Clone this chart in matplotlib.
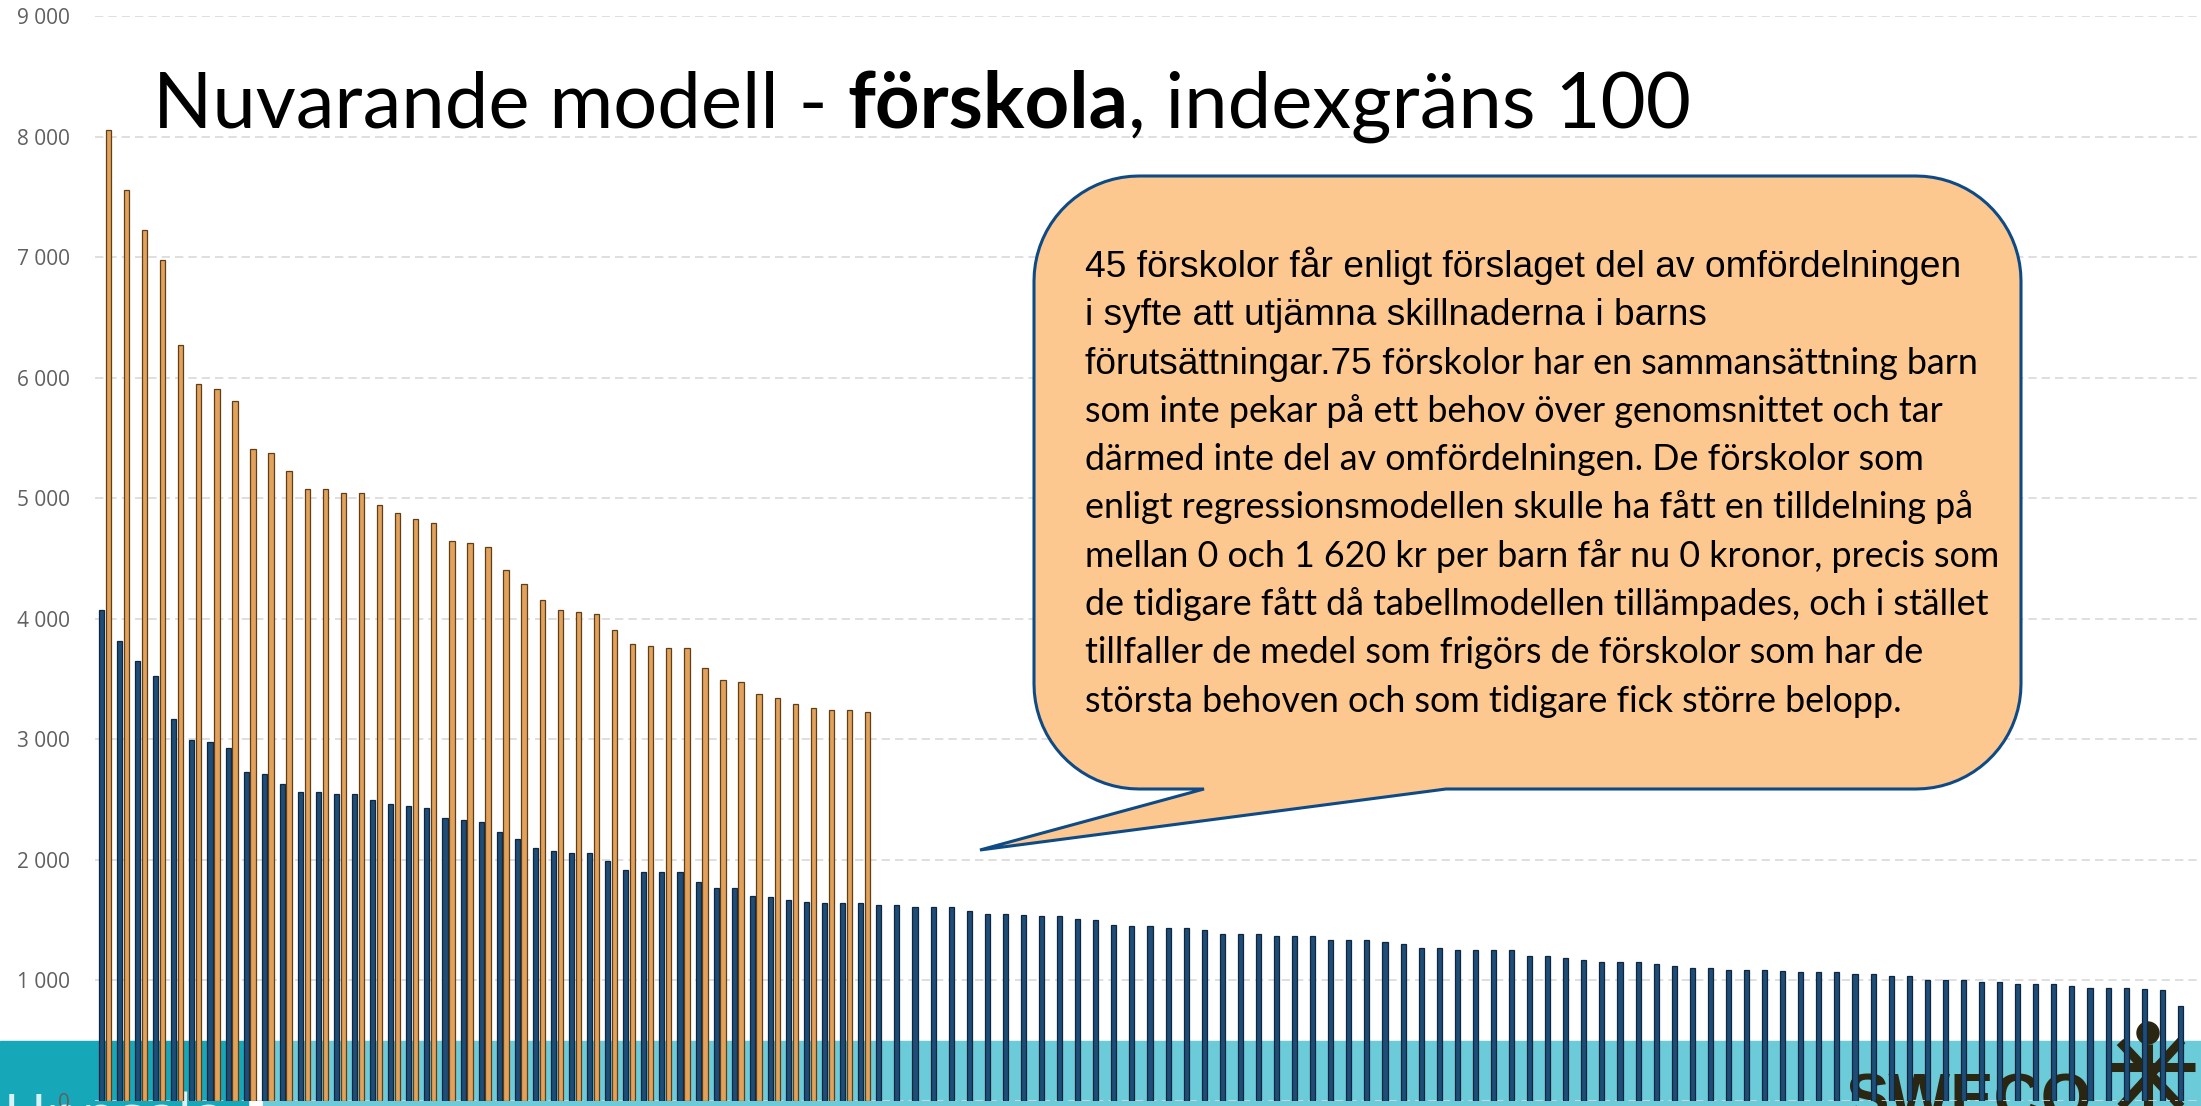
import matplotlib.pyplot as plt
import numpy as np
from matplotlib.patches import Rectangle, Polygon, Circle
from matplotlib.transforms import Affine2D
from matplotlib.lines import Line2D

############## DATA ##############
# dark bars: all 116 preschools, sorted
navy_values = [4076, 3816, 3647, 3527, 3165, 2998, 2982, 2932, 2732, 2716,
               2633, 2566, 2566, 2550, 2550, 2500, 2466, 2444, 2433, 2350,
               2333, 2317, 2232, 2170, 2100, 2070, 2053, 2053, 1987, 1920,
               1901, 1901, 1901, 1818, 1768, 1768, 1704, 1690, 1670, 1650,
               1639, 1639, 1639, 1622, 1622, 1606, 1606, 1606, 1572, 1550,
               1550, 1539, 1533, 1533, 1506, 1500, 1456, 1450, 1450, 1439,
               1439, 1417, 1389, 1389, 1389, 1372, 1372, 1372, 1339, 1339,
               1333, 1322, 1305, 1272, 1272, 1256, 1256, 1256, 1250, 1206,
               1206, 1189, 1172, 1156, 1156, 1156, 1139, 1117, 1106, 1100,
               1089, 1083, 1083, 1078, 1072, 1072, 1072, 1056, 1056, 1039,
               1039, 1006, 1006, 1006, 989, 983, 972, 972, 972, 956,
               939, 939, 939, 933, 922, 789]
# golden bars: preschools above the index limit
orange_values = [8052, 7554, 7221, 6972, 6274, 5946, 5908, 5810, 5411, 5376,
                 5226, 5076, 5076, 5043, 5043, 4943, 4877, 4827, 4794, 4644,
                 4627, 4594, 4408, 4292, 4159, 4076, 4059, 4042, 3909, 3788,
                 3771, 3760, 3755, 3594, 3494, 3477, 3377, 3344, 3294, 3261,
                 3244, 3244, 3228]
yticks = [0, 1000, 2000, 3000, 4000, 5000, 6000, 7000, 8000, 9000]
ytick_labels = [f"{v:,}".replace(",", " ") for v in yticks]

title_runs = [("Nuvarande modell - ", "normal"), ("förskola", "bold"), (", indexgräns 100", "normal")]
callout_lines = [
    [("45 förskolor får enligt förslaget del av omfördelningen", "arial")],
    [("i syfte att utjämna skillnaderna i barns", "arial")],
    [("förutsättningar.75 ", "arial"), ("förskolor har en sammansättning barn", "calibri")],
    [("som inte pekar på ett behov över genomsnittet och tar", "calibri")],
    [("därmed inte del av omfördelningen. De förskolor som", "calibri")],
    [("enligt regressionsmodellen skulle ha fått en tilldelning på", "calibri")],
    [("mellan 0 och 1 620 kr per barn får nu 0 kronor, precis som", "calibri")],
    [("de tidigare fått då tabellmodellen tillämpades, och i stället", "calibri")],
    [("tillfaller de medel som frigörs de förskolor som har de", "calibri")],
    [("största behoven och som tidigare fick större belopp.", "calibri")],
]

############## PLOT ##############
W, H = 2201, 1106
fig = plt.figure(figsize=(W / 100, H / 100), dpi=100)
fig.patch.set_facecolor("white")
px = Affine2D().scale(1 / W, -1 / H).translate(0, 1) + fig.transFigure

# teal footer band (behind the bars)
fig.add_artist(Rectangle((0, 1041), 248, 70, transform=px, color="#16A8B9", zorder=-2))
fig.add_artist(Rectangle((263, 1041), W - 263, 70, transform=px, color="#6CCBD9", zorder=-2))
fig.text(4, 1136, "Uppsala", transform=px, fontsize=42, color="#D8F2F6",
         family="Open Sans", zorder=-1)
fig.text(1845, 1119, "SWECO", transform=px, fontsize=47, weight="bold",
         color="#2B2612", family="Liberation Sans", zorder=-1)
logo_c = "#2B2612"
fig.add_artist(Circle((2148, 1033), 11, transform=px, color=logo_c, zorder=-1))
for (xa, ya), (xb, yb) in [((2107, 1067), (2195, 1067)), ((2120, 1042), (2184, 1110)),
                           ((2182, 1040), (2118, 1110)), ((2148, 1044), (2148, 1110))]:
    fig.add_artist(Line2D([xa, xb], [ya, yb], transform=px, color=logo_c, lw=6.5,
                          solid_capstyle="butt", zorder=-1))

ax = fig.add_axes([95 / W, 5 / H, 1 - 95 / W, 1085 / H])
ax.set_facecolor("none")
x = np.arange(len(navy_values))
ax.bar(x - 0.19, navy_values, width=0.28, color="#1E4D78", edgecolor="#10263F",
       linewidth=0.9, zorder=2)
ax.bar(x[:len(orange_values)] + 0.19, orange_values, width=0.3, color="#E2A25C",
       edgecolor="#5E3F1A", linewidth=0.9, zorder=3)

ax.set_xlim(-0.55, 115.95)
ax.set_ylim(0, 9000)
ax.set_yticks(yticks)
ax.set_yticklabels(ytick_labels, fontsize=15, color="#606060", family="Open Sans")
ax.set_xticks([])
ax.tick_params(axis="y", length=0, pad=18)
ax.grid(axis="y", color="#D9D9D9", linestyle=(0, (5, 3)), linewidth=1.2, zorder=0)
for s in ax.spines.values():
    s.set_visible(False)

renderer = fig.canvas.get_renderer()


def put_runs(x0, y0, runs, style):
    xx = x0
    for s, key in runs:
        t = fig.text(xx, y0, s, transform=px, va="baseline", ha="left", zorder=7, **style[key])
        xx += t.get_window_extent(renderer).width


# title
put_runs(153, 128, title_runs, {
    "normal": dict(fontsize=56, family="Lato", color="black"),
    "bold": dict(fontsize=56, family="Lato", weight="bold", color="black"),
})

# callout bubble with tail
bx0, by0, bx1, by1, r = 1034, 176, 2021, 789, 105
pts = []
for (cx, cy, a0) in [(bx0 + r, by0 + r, 180), (bx1 - r, by0 + r, 270), (bx1 - r, by1 - r, 0)]:
    for t in np.linspace(a0, a0 + 90, 20):
        pts.append((cx + r * np.cos(np.radians(t)), cy + r * np.sin(np.radians(t))))
pts += [(1446, by1), (980, 850), (1204, by1)]
for t in np.linspace(90, 180, 20):
    pts.append((bx0 + r + r * np.cos(np.radians(t)), by1 - r + r * np.sin(np.radians(t))))
fig.add_artist(Polygon(pts, closed=True, transform=px, facecolor="#FDC890",
                       edgecolor="#0E4A85", linewidth=2.2, zorder=6))

text_style = {
    "arial": dict(fontsize=26.7, family="Liberation Sans", color="black"),
    "calibri": dict(fontsize=25.8, family="Lato", color="black"),
}
for i, runs in enumerate(callout_lines):
    put_runs(1085, 277 + i * 48.3, runs, text_style)

fig.savefig("out.png", dpi=100, facecolor="white")
